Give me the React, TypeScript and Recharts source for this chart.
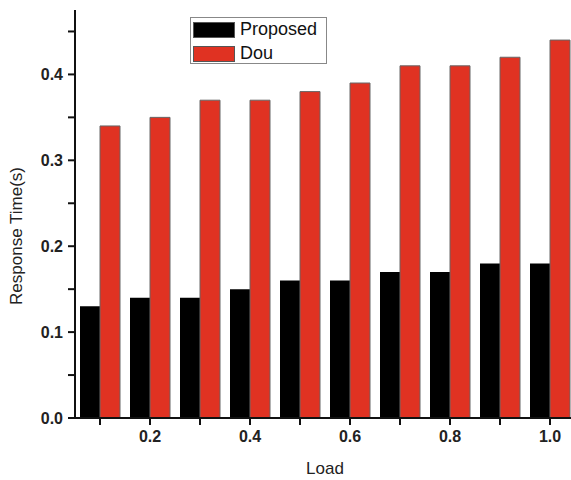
import React from 'react';
import { BarChart, Bar, XAxis, YAxis, Legend } from 'recharts';

const loads = ['0.1', '0.2', '0.3', '0.4', '0.5', '0.6', '0.7', '0.8', '0.9', '1.0'];
const proposed = [0.13, 0.14, 0.14, 0.15, 0.16, 0.16, 0.17, 0.17, 0.18, 0.18];
const dou = [0.34, 0.35, 0.37, 0.37, 0.38, 0.39, 0.41, 0.41, 0.42, 0.44];
const labeledLoads = ['0.2', '0.4', '0.6', '0.8', '1.0'];
const yTicks = [0, 0.05, 0.1, 0.15, 0.2, 0.25, 0.3, 0.35, 0.4, 0.45];
const yLabeled = [0, 0.1, 0.2, 0.3, 0.4];

const data = loads.map((l, i) => ({ load: l, Proposed: proposed[i], Dou: dou[i] }));

const FONT = 'Arial, "Liberation Sans", sans-serif';
const RED = '#e03222';

const LegendBox = () => (
  <div
    style={{
      width: 137,
      height: 47,
      border: '1px solid #888',
      background: '#fff',
      fontFamily: FONT,
      fontSize: 18,
      color: '#111',
      boxSizing: 'border-box',
      padding: '3px 2px 0 2px',
    }}
  >
    {[
      { name: 'Proposed', color: '#000' },
      { name: 'Dou', color: RED },
    ].map((it) => (
      <div key={it.name} style={{ display: 'flex', alignItems: 'center', height: 17, marginBottom: 7 }}>
        <div style={{ width: 42, height: 16, background: it.color, border: '1px solid #555', boxSizing: 'border-box', marginRight: 5 }} />
        <span>{it.name}</span>
      </div>
    ))}
  </div>
);

const YLabel = (props: any) => {
  const vb = props.viewBox || {};
  const cx = 16;
  const cy = (vb.y || 0) + (vb.height || 0) / 2 + 22;
  return (
    <text
      x={cx}
      y={cy}
      transform={`rotate(-90, ${cx}, ${cy})`}
      textAnchor="middle"
      dominantBaseline="central"
      fontFamily={FONT}
      fontSize={17}
      fill="#222"
    >
      Response Time(s)
    </text>
  );
};

export default function App() {
  return (
    <div style={{ position: 'absolute', left: 0, top: 0, width: 571, height: 480, overflow: 'hidden', background: '#fff' }}>
      <BarChart
        width={580}
        height={480}
        data={data}
        margin={{ top: 10, right: 5, left: 0, bottom: 0 }}
        barGap={0}
        barCategoryGap="10%"
      >
        <XAxis
          dataKey="load"
          height={62}
          interval={0}
          tickSize={7}
          tickMargin={6}
          axisLine={{ stroke: '#111', strokeWidth: 2 }}
          tickLine={{ stroke: '#111', strokeWidth: 2 }}
          tick={{ fontFamily: FONT, fontSize: 16, fontWeight: 'bold', fill: '#222' }}
          tickFormatter={(v: string) => (labeledLoads.includes(v) ? v : '')}
          label={{ value: 'Load', position: 'insideBottom', offset: 6, fontFamily: FONT, fontSize: 17, fill: '#222' }}
        />
        <YAxis
          width={75}
          domain={[0, 0.475]}
          ticks={yTicks}
          interval={0}
          tickSize={7}
          tickMargin={5}
          axisLine={{ stroke: '#111', strokeWidth: 2 }}
          tickLine={{ stroke: '#111', strokeWidth: 2 }}
          tick={{ fontFamily: FONT, fontSize: 16, fontWeight: 'bold', fill: '#222' }}
          tickFormatter={(v: number) => (yLabeled.some((t) => Math.abs(t - v) < 1e-9) ? v.toFixed(1) : '')}
          label={<YLabel />}
        />
        <Legend
          content={<LegendBox />}
          layout="horizontal"
          verticalAlign="middle"
          align="center"
          wrapperStyle={{ position: 'absolute', left: 190, top: 17, width: 137, height: 47 }}
        />
        <Bar dataKey="Proposed" fill="#000" isAnimationActive={false} />
        <Bar dataKey="Dou" fill={RED} stroke="#666" strokeWidth={1} isAnimationActive={false} />
      </BarChart>
    </div>
  );
}
